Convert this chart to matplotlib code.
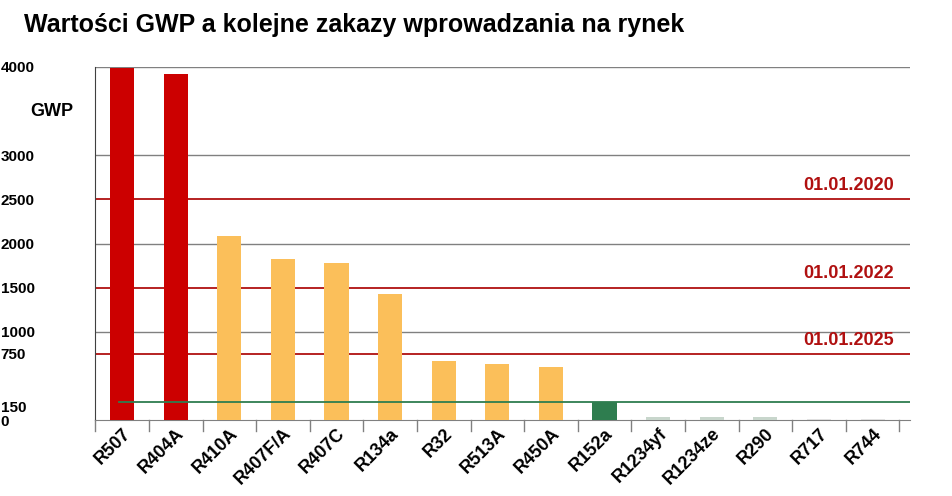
import matplotlib
matplotlib.use("Agg")
import matplotlib.pyplot as plt
plt.rcParams['font.family'] = ['Liberation Sans', 'DejaVu Sans']

categories = ["R507","R404A","R410A","R407F/A","R407C","R134a","R32","R513A","R450A","R152a","R1234yf","R1234ze","R290","R717","R744"]
gwp = [3985,3922,2088,1825,1774,1430,675,631,604,200,30,30,30,15,15]
colors = ["#cc0000"]*2 + ["#fbbf5a"]*7 + ["#2e7d4f"] + ["#c8d6cc"]*3 + ["#e0e0e0"]*2
ticks = [0,150,750,1000,1500,2000,2500,3000,4000]
grid_vals = [1000,2000,3000,4000]
ban_vals = [2500,1500,750]
ban_labels = ["01.01.2020","01.01.2022","01.01.2025"]
green_val = 200

fig = plt.figure(figsize=(9.53,4.96), dpi=100)
ax = fig.add_axes([0.10,0.153,0.855,0.712])
x = range(len(categories))
ax.bar(x, gwp, width=0.45, color=colors, zorder=3)
for g in grid_vals:
    ax.axhline(g, color="#808080", lw=1, zorder=1)
for v, l in zip(ban_vals, ban_labels):
    ax.axhline(v, color="#b01010", lw=1.3, zorder=2)
    ax.text(14.4, v+60, l, color="#b01010", fontsize=13, fontweight="bold", ha="right", va="bottom")
ax.plot([-0.05,14.7],[green_val,green_val], color="#2e7d4f", lw=1.3, zorder=4)
ax.set_xlim(-0.5,14.7)
ax.set_ylim(0,4000)
ax.set_yticks(ticks)
ax.set_yticklabels([str(t) for t in ticks], fontsize=11, fontweight="bold")
ax.set_xticks(x)
ax.set_xticklabels(categories, rotation=45, ha="right", rotation_mode="anchor", fontsize=13, fontweight="bold")
ax.tick_params(axis="y", length=0, pad=68)
for lbl in ax.get_yticklabels():
    lbl.set_horizontalalignment("left")
ax.tick_params(axis="x", length=0)
for s in ["top","right"]:
    ax.spines[s].set_visible(False)
ax.spines["bottom"].set_color("#808080")
ax.spines["left"].set_color("#404040")
for i in range(len(categories)+1):
    ax.plot([i-0.5,i-0.5],[0,-120], color="#808080", lw=1, clip_on=False)
ax.text(-0.08, 0.86, "GWP", transform=ax.transAxes, fontsize=13, fontweight="bold")
fig.text(0.025,0.935,"Wartości GWP a kolejne zakazy wprowadzania na rynek", fontsize=18, fontweight="bold")
fig.savefig("out.png", dpi=100)
